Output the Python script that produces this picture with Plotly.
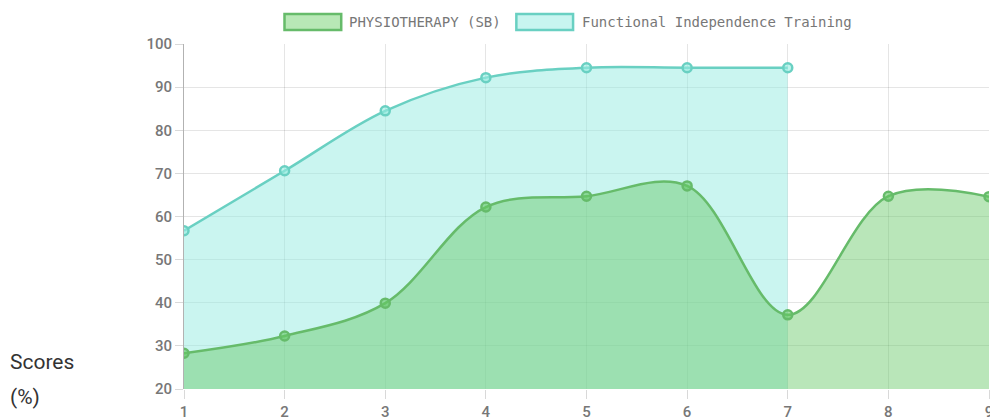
import plotly.graph_objects as go

x_vals = [1, 2, 3, 4, 5, 6, 7, 8, 9]
physio = [28.3, 32.3, 39.9, 62.2, 64.7, 67.1, 37.2, 64.7, 64.6]
fit_x = [1, 2, 3, 4, 5, 6, 7]
fit = [56.7, 70.6, 84.5, 92.2, 94.5, 94.5, 94.5]
y_ticks = [20, 30, 40, 50, 60, 70, 80, 90, 100]
series_names = ["PHYSIOTHERAPY (SB)", "Functional Independence Training"]

green_line = "rgb(102,187,106)"
green_fill = "rgba(100,200,100,0.45)"
cyan_line = "rgb(105,208,194)"
cyan_fill = "rgba(150,236,225,0.5)"

fig = go.Figure()
fig.add_trace(go.Scatter(
    x=fit_x, y=fit, name=series_names[1], mode="lines+markers",
    line=dict(color=cyan_line, width=2.5, shape="spline", smoothing=1.0),
    fill="tozeroy", fillcolor=cyan_fill,
    marker=dict(size=9, color="rgba(150,236,225,0.6)", line=dict(color=cyan_line, width=2.5)),
    showlegend=False,
))
fig.add_trace(go.Scatter(
    x=x_vals, y=physio, name=series_names[0], mode="lines+markers",
    line=dict(color=green_line, width=2.5, shape="spline", smoothing=1.0),
    fill="tozeroy", fillcolor=green_fill,
    marker=dict(size=9, color="rgba(100,200,100,0.6)", line=dict(color=green_line, width=2.5)),
    showlegend=False,
))

# page body has an 8px margin; work in absolute window pixels
OFF = 8
W, H = 990, 419
L = 184 - OFF
T = 44 - OFF
plot_right = 993 - OFF
plot_bottom = 389 - OFF
R = W - plot_right
B = H - plot_bottom
pw = plot_right - L
ph = plot_bottom - T

def px_x(p):
    return (p - OFF - L) / pw

def px_y(p):
    return (plot_bottom - (p - OFF)) / ph

shapes = [
    dict(type="rect", xref="paper", yref="paper",
         x0=px_x(285), x1=px_x(342), y0=px_y(30), y1=px_y(14),
         fillcolor="rgb(184,232,182)", line=dict(color=green_line, width=2.5)),
    dict(type="rect", xref="paper", yref="paper",
         x0=px_x(518), x1=px_x(575), y0=px_y(30), y1=px_y(14),
         fillcolor="rgb(200,245,240)", line=dict(color=cyan_line, width=2.5)),
]

legend_font = dict(family="DejaVu Sans Mono", size=14, color="#777")
annotations = [
    dict(text=series_names[0], xref="paper", yref="paper", x=px_x(348), y=px_y(22),
         xanchor="left", yanchor="middle", showarrow=False, font=legend_font),
    dict(text=series_names[1], xref="paper", yref="paper", x=px_x(582), y=px_y(22),
         xanchor="left", yanchor="middle", showarrow=False, font=legend_font),
    dict(text="Scores", xref="paper", yref="paper", x=px_x(7), y=px_y(362),
         xanchor="left", yanchor="middle", showarrow=False,
         font=dict(family="Roboto", size=21, color="#333")),
    dict(text="(%)", xref="paper", yref="paper", x=px_x(7), y=px_y(397),
         xanchor="left", yanchor="middle", showarrow=False,
         font=dict(family="Roboto", size=21, color="#333")),
]

tick_font = dict(family="Roboto", size=15, color="#777", weight=500)

fig.update_layout(
    width=W, height=H,
    margin=dict(l=L, r=R, t=T, b=B, pad=0),
    paper_bgcolor="white", plot_bgcolor="white",
    shapes=shapes, annotations=annotations,
    showlegend=False,
    xaxis=dict(range=[1, 9], tickvals=x_vals, ticks="outside", ticklen=9,
               tickcolor="rgba(0,0,0,0.15)", showgrid=True, gridcolor="rgba(0,0,0,0.1)",
               zeroline=False, showline=False, tickfont=tick_font),
    yaxis=dict(range=[20, 100], tickvals=y_ticks, ticks="outside", ticklen=8,
               tickcolor="rgba(0,0,0,0.15)", showgrid=True, gridcolor="rgba(0,0,0,0.1)",
               zeroline=False, showline=True, linecolor="rgba(0,0,0,0.3)", linewidth=1,
               tickfont=tick_font),
)

fig.write_html("out.html")
